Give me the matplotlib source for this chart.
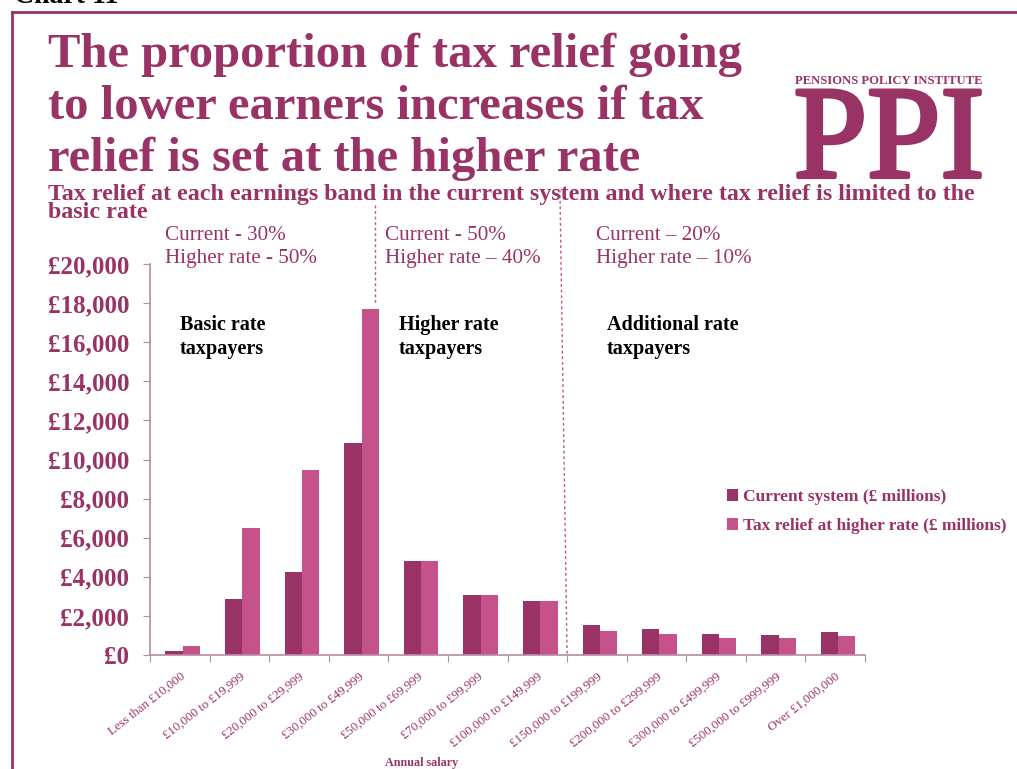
import numpy as np
import matplotlib.pyplot as plt
import matplotlib.patheffects as pe
import matplotlib.transforms as mtransforms
from matplotlib.lines import Line2D

# earnings bands and tax relief (£ millions)
bands = ["Less than £10,000", "£10,000 to £19,999", "£20,000 to £29,999",
         "£30,000 to £49,999", "£50,000 to £69,999", "£70,000 to £99,999",
         "£100,000 to £149,999", "£150,000 to £199,999", "£200,000 to £299,999",
         "£300,000 to £499,999", "£500,000 to £999,999", "Over £1,000,000"]
current = [200, 2860, 4250, 10840, 4810, 3070, 2760, 1530, 1330, 1070, 1020, 1180]
higher = [460, 6500, 9460, 17700, 4810, 3070, 2760, 1230, 1070, 870, 870, 970]
yticks = [0, 2000, 4000, 6000, 8000, 10000, 12000, 14000, 16000, 18000, 20000]

plum = "#993366"
pink = "#C5528A"
spine = "#B98AA3"
serif = "Liberation Serif"

plt.rcParams["font.family"] = serif

fig = plt.figure(figsize=(10.17, 7.69), dpi=100)
W, H = 1017, 769


def fx(px):
    return px / W


def fy(py):
    return 1 - py / H


# frame
fig.add_artist(Line2D([fx(12), 1], [fy(12), fy(12)], color=plum, lw=2))
fig.add_artist(Line2D([fx(12), fx(12)], [fy(12), 0], color=plum, lw=2))
fig.text(fx(14), fy(3), "Chart 11", fontsize=20, fontweight="bold",
         color="black", va="baseline", ha="left")

# title block
title = ["The proportion of tax relief going",
         "to lower earners increases if tax",
         "relief is set at the higher rate"]
for i, line in enumerate(title):
    fig.text(fx(48), fy(67 + i * 52), line, fontsize=35, fontweight="bold",
             color=plum, va="baseline", ha="left")

fig.text(fx(48), fy(200), "Tax relief at each earnings band in the current system "
         "and where tax relief is limited to the", fontsize=17.3, fontweight="bold",
         color=plum, va="baseline", ha="left")
fig.text(fx(48), fy(218), "basic rate", fontsize=17.3, fontweight="bold",
         color=plum, va="baseline", ha="left")

# PPI logo
fig.text(fx(889), fy(84), "PENSIONS POLICY INSTITUTE", fontsize=9.1,
         fontweight="bold", color=plum, ha="center", va="baseline")
fig.text(fx(889), fy(177), "PPI", fontsize=95, color=plum, ha="center",
         va="baseline",
         path_effects=[pe.withStroke(linewidth=3, foreground=plum)])

ax = fig.add_axes([fx(150), fy(655), fx(865) - fx(150), fy(264) - fy(655)])
x = np.arange(len(bands))
w = 0.29
ax.bar(x - w / 2 + 0.05, current, width=w, color=plum, label="Current system (£ millions)")
ax.bar(x + w / 2 + 0.05, higher, width=w, color=pink, label="Tax relief at higher rate (£ millions)")

ax.set_xlim(-0.5, len(bands) - 0.5)
ax.set_ylim(0, 20000)
ax.set_yticks(yticks)
ax.set_yticklabels([f"£{v:,}" for v in yticks], fontsize=18, fontweight="bold", color=plum)
ax.set_xticks(np.arange(-0.5, len(bands)))
ax.set_xticklabels([])
ax.set_xticks(x, minor=True)
ax.set_xticklabels(bands, minor=True, rotation=38, ha="right", rotation_mode="anchor",
                   fontsize=9.3, color=plum)
ax.tick_params(axis="x", which="minor", length=0, pad=4)
ax.tick_params(axis="x", which="major", length=5, color=spine, direction="out")
ax.tick_params(axis="y", length=5, color=spine, pad=10)
for s in ["top", "right"]:
    ax.spines[s].set_visible(False)
for s in ["left", "bottom"]:
    ax.spines[s].set_color(spine)
    ax.spines[s].set_linewidth(1.2)

# shift rotated labels so their ends sit under the bar groups
offset = mtransforms.ScaledTranslation(0, -10 / 100, fig.dpi_scale_trans)
for lbl in ax.get_xticklabels(minor=True):
    lbl.set_transform(lbl.get_transform() + offset)

ax.set_xlabel("Annual salary", fontsize=8.7, fontweight="bold", color=plum)
ax.xaxis.set_label_coords((fx(422) - fx(150)) / (fx(865) - fx(150)), -0.262)

# band dividers
ax.plot([3.27, 3.27], [23000, 18000], ls=(0, (2, 2)), color=pink, lw=1, clip_on=False)
ax.plot([6.38, 6.5], [23800, 0], ls=(0, (2, 2)), color=pink, lw=1, clip_on=False)

# band annotations
notes = [(165, "Current - 30%", "Higher rate - 50%"),
         (385, "Current - 50%", "Higher rate \u2013 40%"),
         (596, "Current \u2013 20%", "Higher rate \u2013 10%")]
for px, a, b in notes:
    fig.text(fx(px), fy(240), a, fontsize=15.2, color=plum, ha="left", va="baseline")
    fig.text(fx(px), fy(263), b, fontsize=15.2, color=plum, ha="left", va="baseline")

groups = [(180, "Basic rate"), (399, "Higher rate"), (607, "Additional rate")]
for px, g in groups:
    fig.text(fx(px), fy(330), g, fontsize=14.5, fontweight="bold", color="black",
             ha="left", va="baseline")
    fig.text(fx(px), fy(354), "taxpayers", fontsize=14.5, fontweight="bold",
             color="black", ha="left", va="baseline")

leg = ax.legend(loc="upper left", bbox_to_anchor=(fx(727), fy(489)),
                bbox_transform=fig.transFigure, frameon=False,
                prop={"family": serif, "weight": "bold", "size": 12.5},
                handlelength=0.65, handleheight=0.65, handletextpad=0.25,
                labelspacing=0.75, borderaxespad=0, borderpad=0)
for t in leg.get_texts():
    t.set_color(plum)

fig.savefig("out.png", dpi=100)
